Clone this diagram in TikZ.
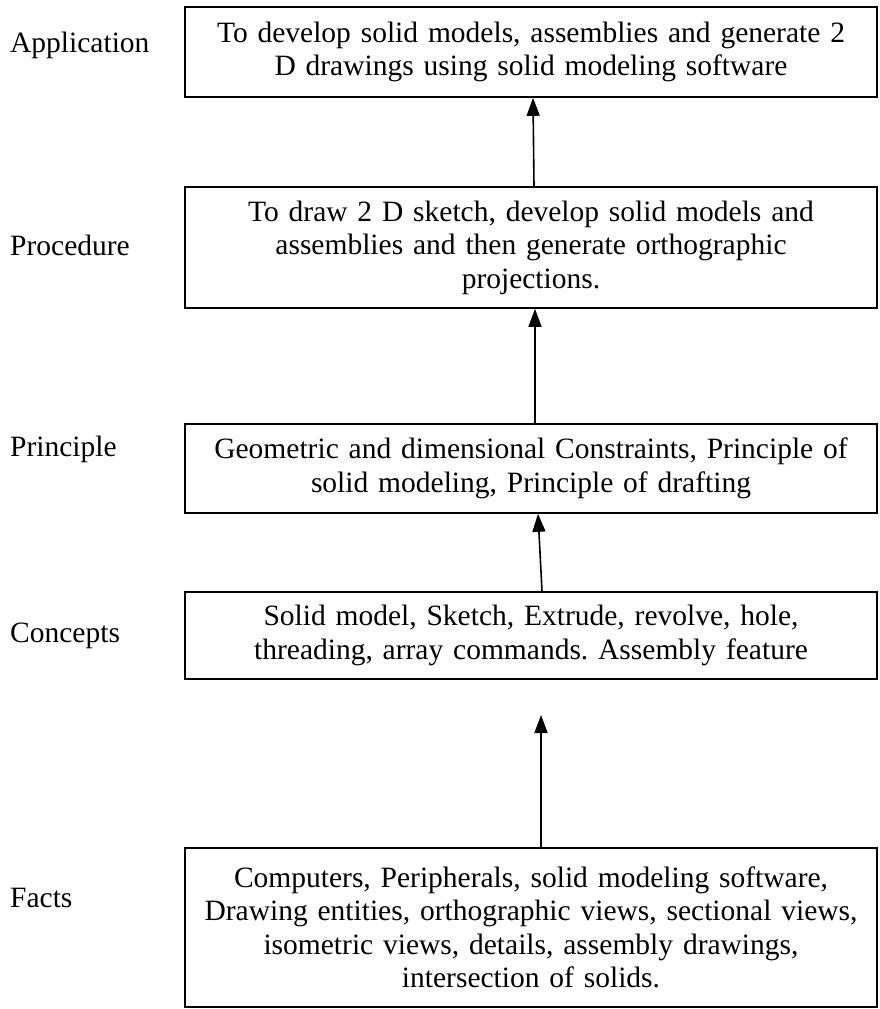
\documentclass[tikz,border=0pt]{standalone}
\usepackage{fontspec}
\setmainfont{Liberation Serif}
\usetikzlibrary{arrows.meta}
\frenchspacing
\begin{document}
\begin{tikzpicture}[x=1pt,y=-1pt,
  txt/.style={font=\fontsize{29.5}{33.5}\selectfont},
  box/.style={txt,draw,line width=1.6pt,rectangle,minimum width=692pt,text width=680pt,align=center,inner sep=0pt},
  lbl/.style={txt,anchor=base west,inner sep=0pt},
  arr/.style={line width=1.6pt,-{Triangle[length=18pt,width=13pt]}}]
\useasboundingbox (0,0) rectangle (880,1009);
\node[box,minimum height=90pt] (b1) at (531,52) {To develop solid models, assemblies and generate 2\\D drawings using solid modeling software};
\node[box,minimum height=121pt] (b2) at (531,247.5) {To draw 2 D sketch, develop solid models and\\assemblies and then generate orthographic\\projections.};
\node[box,minimum height=89pt] (b3) at (531,468.5) {Geometric and dimensional Constraints, Principle of\\solid modeling, Principle of drafting};
\node[box,minimum height=87pt] (b4) at (531,635.5) {Solid model, Sketch, Extrude, revolve, hole,\\threading, array commands. Assembly feature};
\node[box,minimum height=159pt] (b5) at (531,927.5) {Computers, Peripherals, solid modeling software,\\Drawing entities, orthographic views, sectional views,\\isometric views, details, assembly drawings,\\intersection of solids.};
\node[lbl] (l1) at (10,52) {Application};
\node[lbl] (l2) at (10,255) {Procedure};
\node[lbl] (l3) at (10,456) {Principle};
\node[lbl] (l4) at (10,642) {Concepts};
\node[lbl] (l5) at (10,907) {Facts};
\coordinate (a4end) at (541,715);
\draw[arr] (b2.north -| 534,0) -- (b1.south -| 533,0);
\draw[arr] (b3.north -| 535,0) -- (b2.south -| 535,0);
\draw[arr] (b4.north -| 542,0) -- (b3.south -| 538,0);
\draw[arr] (b5.north -| 541,0) -- (a4end);
\end{tikzpicture}
\end{document}
